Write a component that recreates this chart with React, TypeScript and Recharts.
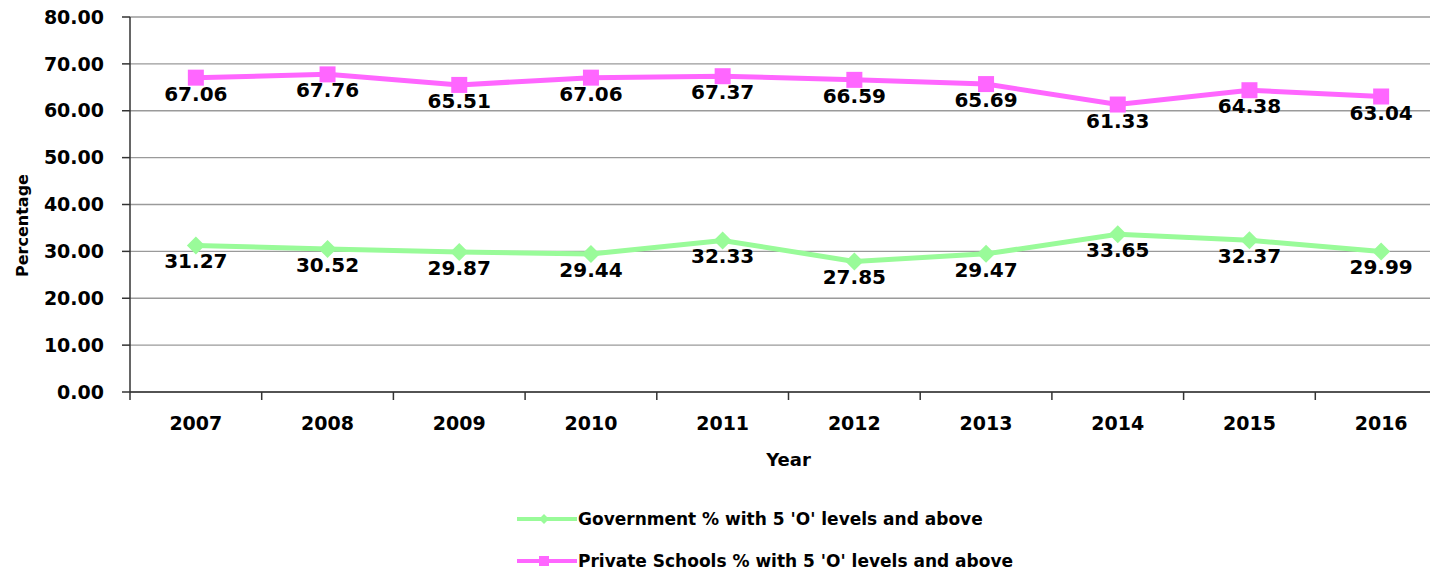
import React from "react";
import {
  LineChart, Line, XAxis, YAxis, CartesianGrid, Legend, LabelList,
} from "recharts";

const years = ["2007", "2008", "2009", "2010", "2011", "2012", "2013", "2014", "2015", "2016"];
const government = [31.27, 30.52, 29.87, 29.44, 32.33, 27.85, 29.47, 33.65, 32.37, 29.99];
const privateSchools = [67.06, 67.76, 65.51, 67.06, 67.37, 66.59, 65.69, 61.33, 64.38, 63.04];
const yTicks = [0, 10, 20, 30, 40, 50, 60, 70, 80];

const GOV = "#99fb99";
const PRIV = "#ff66ff";
const FONT = "'DejaVu Sans', Verdana, sans-serif";

const data = years.map((y, i) => ({
  year: y,
  gov: government[i],
  priv: privateSchools[i],
}));

const W = 1448;
const H = 572;
const LEFT = 130;
const BAND = (W - LEFT - 1) / years.length;

const XTick = ({ x, y, payload }: any) => (
  <g>
    <line x1={x - BAND / 2} x2={x - BAND / 2} y1={y - 8} y2={y} stroke="#333" strokeWidth={1.5} />
    <text x={x} y={y + 30} textAnchor="middle" fontFamily={FONT} fontWeight="bold" fontSize={19} fill="#000">
      {payload.value}
    </text>
  </g>
);

const Diamond = ({ cx, cy }: any) => (
  <path d={`M${cx},${cy - 9} L${cx + 9},${cy} L${cx},${cy + 9} L${cx - 9},${cy} Z`} fill={GOV} />
);

const Square = ({ cx, cy }: any) => (
  <rect x={cx - 8} y={cy - 8} width={16} height={16} fill={PRIV} />
);

const ValueLabel = ({ x, y, value }: any) => (
  <text x={x} y={y + 23} textAnchor="middle" fontFamily={FONT} fontWeight="bold" fontSize={20} fill="#000">
    {Number(value).toFixed(2)}
  </text>
);

// y axis title sits a bit below the plot's middle in the original
const YTitle = ({ viewBox }: any) => {
  const cx = 22;
  const cy = viewBox.y + viewBox.height / 2 + 21;
  return (
    <text x={cx} y={cy} transform={`rotate(-90, ${cx}, ${cy})`} textAnchor="middle" dominantBaseline="central"
      fontFamily={FONT} fontWeight="bold" fontSize={16} fill="#000">
      Percentage
    </text>
  );
};

const LegendBox = () => {
  const rows = [
    { name: "Government % with 5 'O' levels and above", color: GOV, square: false },
    { name: "Private Schools % with 5 'O' levels and above", color: PRIV, square: true },
  ];
  return (
    <div style={{ fontFamily: FONT, fontWeight: "bold", fontSize: 17 }}>
      {rows.map((r) => (
        <div key={r.name} style={{ display: "flex", alignItems: "center", height: 22, marginBottom: 20 }}>
          <svg width={60} height={16} style={{ marginRight: 1 }}>
            <line x1={0} x2={60} y1={8} y2={8} stroke={r.color} strokeWidth={4} />
            {r.square ? (
              <rect x={22} y={3} width={10} height={10} fill={r.color} />
            ) : (
              <path d="M27,3 L32,8 L27,13 L22,8 Z" fill={r.color} />
            )}
          </svg>
          <span style={{ color: "#000" }}>{r.name}</span>
        </div>
      ))}
    </div>
  );
};

export default function App() {
  return (
    <div style={{ position: "absolute", left: 0, top: 0, width: 1430, height: 572, overflow: "hidden", background: "#fff" }}>
      <LineChart width={W} height={H} data={data} margin={{ top: 17, right: 1, left: 0, bottom: 16 }}>
        <CartesianGrid vertical={false} stroke="#9a9a9a" strokeWidth={1.3} />
        <XAxis
          dataKey="year"
          height={100}
          padding={{ left: BAND / 2, right: BAND / 2 }}
          axisLine={{ stroke: "#333", strokeWidth: 1.5 }}
          tickLine={false}
          tick={<XTick />}
          interval={0}
          label={{ value: "Year", position: "insideBottom", offset: 26, fontFamily: FONT, fontWeight: "bold", fontSize: 18, fill: "#000" }}
        />
        <YAxis
          width={LEFT}
          domain={[0, 80]}
          ticks={yTicks}
          interval={0}
          tickFormatter={(v: number) => v.toFixed(2)}
          axisLine={{ stroke: "#333", strokeWidth: 1.5 }}
          tickLine={{ stroke: "#333", strokeWidth: 1.5 }}
          tickSize={8}
          tick={{ fontFamily: FONT, fontWeight: "bold", fontSize: 19, fill: "#000" }}
          tickMargin={18}
          label={<YTitle />}
        />
        <Legend
          verticalAlign="bottom"
          height={80}
          wrapperStyle={{ left: 517, top: 508, bottom: "auto", width: 620, height: 64 }}
          content={() => <LegendBox />}
        />
        <Line dataKey="gov" name="Government % with 5 'O' levels and above" stroke={GOV} strokeWidth={5} dot={<Diamond />} activeDot={false} isAnimationActive={false}>
          <LabelList dataKey="gov" content={<ValueLabel />} />
        </Line>
        <Line dataKey="priv" name="Private Schools % with 5 'O' levels and above" stroke={PRIV} strokeWidth={5} dot={<Square />} activeDot={false} isAnimationActive={false}>
          <LabelList dataKey="priv" content={<ValueLabel />} />
        </Line>
      </LineChart>
    </div>
  );
}
